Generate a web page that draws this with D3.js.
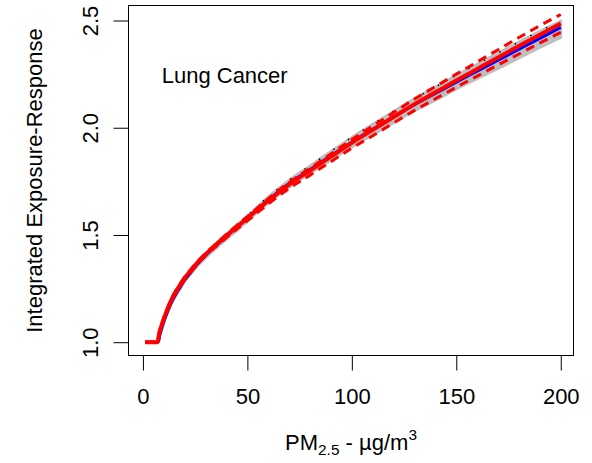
<!DOCTYPE html>
<html>
<head>
<meta charset="utf-8">
<script src="https://cdn.jsdelivr.net/npm/d3@7"></script>
<style>
  html, body { margin: 0; padding: 0; background: #ffffff; }
  svg { display: block; }
  text { font-family: "Liberation Sans", Arial, sans-serif; fill: #000; }
</style>
</head>
<body>
<svg id="chart" width="592" height="463"></svg>
<script>
// PM2.5 concentrations (µg/m3) at which the curves are evaluated
const pm = [1, 4, 7, 7.5, 8, 9, 10, 12, 14, 16, 18, 20, 23, 26, 30, 35, 40, 45, 50,
            60, 70, 80, 90, 100, 110, 120, 130, 140, 150, 160, 170, 180, 190, 200];

// Fitted integrated exposure-response (red, solid)
const ierFit = [1.0, 1.0, 1.0, 1.025, 1.05, 1.08, 1.11, 1.16, 1.205, 1.24, 1.27, 1.30, 1.335, 1.37, 1.41, 1.455, 1.497, 1.538, 1.578,
                1.66, 1.735, 1.80, 1.865, 1.93, 1.99, 2.05, 2.11, 2.165, 2.22, 2.274, 2.328, 2.381, 2.434, 2.486];

// Upper and lower limits of the fit (red, dashed)
const ierUpper = [1.0, 1.0, 1.0, 1.03, 1.055, 1.085, 1.115, 1.165, 1.21, 1.245, 1.275, 1.305, 1.34, 1.375, 1.414, 1.46, 1.503, 1.545, 1.586,
                  1.669, 1.745, 1.811, 1.878, 1.945, 2.008, 2.071, 2.134, 2.192, 2.25, 2.307, 2.364, 2.421, 2.476, 2.528];
const ierLower = [1.0, 1.0, 1.0, 1.015, 1.042, 1.073, 1.103, 1.153, 1.198, 1.233, 1.263, 1.293, 1.328, 1.363, 1.403, 1.447, 1.488, 1.528, 1.566,
                  1.645, 1.717, 1.779, 1.842, 1.905, 1.963, 2.022, 2.081, 2.135, 2.189, 2.241, 2.293, 2.344, 2.395, 2.445];

// Reference curve (blue)
const ierRef = [1.0, 1.0, 1.0, 1.005, 1.03, 1.065, 1.095, 1.148, 1.193, 1.228, 1.26, 1.29, 1.327, 1.363, 1.405, 1.451, 1.494, 1.536, 1.578,
                1.664, 1.74, 1.805, 1.87, 1.934, 1.993, 2.051, 2.108, 2.16, 2.213, 2.264, 2.315, 2.366, 2.417, 2.468];

// Spread of the simulated curves (grey band); its upper edge is also dotted in black
const bandHigh = [1.0, 1.0, 1.0, 1.01, 1.04, 1.073, 1.103, 1.157, 1.202, 1.237, 1.267, 1.298, 1.337, 1.373, 1.414, 1.46, 1.505, 1.548, 1.59,
                  1.678, 1.756, 1.823, 1.89, 1.956, 2.017, 2.077, 2.136, 2.19, 2.245, 2.297, 2.349, 2.401, 2.451, 2.497];
const bandLow = [1.0, 1.0, 1.0, 1.0, 1.022, 1.057, 1.087, 1.139, 1.184, 1.219, 1.249, 1.28, 1.318, 1.353, 1.393, 1.437, 1.48, 1.52, 1.564,
                 1.648, 1.722, 1.786, 1.848, 1.91, 1.967, 2.023, 2.078, 2.128, 2.18, 2.228, 2.276, 2.325, 2.373, 2.42];

const xTicks = [0, 50, 100, 150, 200];
const yTicks = [1.0, 1.5, 2.0, 2.5];
const yTickLabels = ["1.0", "1.5", "2.0", "2.5"];
const panelTitle = "Lung Cancer";

const svg = d3.select("#chart");
svg.append("rect").attr("width", 592).attr("height", 463).attr("fill", "#ffffff");

const box = { left: 128.5, right: 573.5, top: 5.5, bottom: 355.5 };

const x = d3.scaleLinear().domain([-6.9, 206.1]).range([box.left, box.right]);
const y = d3.scaleLinear().domain([0.938, 2.570]).range([box.bottom, box.top]);

const idx = d3.range(pm.length);
const lineOf = arr => d3.line()
  .x(i => x(pm[i]))
  .y(i => y(arr[i]))
  .curve(d3.curveMonotoneX)(idx);

// grey band
svg.append("path")
  .attr("d", d3.area()
    .x(i => x(pm[i]))
    .y0(i => y(bandLow[i]))
    .y1(i => y(bandHigh[i]))
    .curve(d3.curveMonotoneX)(idx))
  .attr("fill", "#bebebe")
  .attr("stroke", "#bebebe")
  .attr("stroke-width", 2.5);

// dotted upper edge of the band
svg.append("path")
  .attr("d", lineOf(bandHigh))
  .attr("fill", "none")
  .attr("stroke", "#000")
  .attr("stroke-width", 1.5)
  .attr("stroke-dasharray", "1.5,16");

// reference curve
svg.append("path")
  .attr("d", lineOf(ierRef))
  .attr("fill", "none")
  .attr("stroke", "#0000ff")
  .attr("stroke-width", 3);

// fitted curve
svg.append("path")
  .attr("d", lineOf(ierFit))
  .attr("fill", "none")
  .attr("stroke", "#ff0000")
  .attr("stroke-width", 4);

// limits
[ierUpper, ierLower].forEach(arr => {
  svg.append("path")
    .attr("d", lineOf(arr))
    .attr("fill", "none")
    .attr("stroke", "#ff0000")
    .attr("stroke-width", 3)
    .attr("stroke-dasharray", "9,6");
});

// frame
svg.append("rect")
  .attr("x", box.left).attr("y", box.top)
  .attr("width", box.right - box.left).attr("height", box.bottom - box.top)
  .attr("fill", "none").attr("stroke", "#000").attr("stroke-width", 1);

// x axis
const xAxis = svg.append("g")
  .attr("transform", `translate(0,${box.bottom})`)
  .call(d3.axisBottom(x).tickValues(xTicks).tickFormat(d3.format("d")).tickSize(15).tickPadding(18));
xAxis.select(".domain").remove();
xAxis.selectAll("line").attr("stroke", "#000");
xAxis.selectAll("text").attr("font-size", 22).attr("font-family", "Liberation Sans, Arial, sans-serif").attr("fill", "#000");

// y axis with labels turned to read upwards
const yAxis = svg.append("g")
  .attr("transform", `translate(${box.left},0)`)
  .call(d3.axisLeft(y).tickValues(yTicks).tickFormat((d, i) => yTickLabels[i]).tickSize(15));
yAxis.select(".domain").remove();
yAxis.selectAll("line").attr("stroke", "#000");
yAxis.selectAll("text")
  .attr("font-size", 22)
  .attr("font-family", "Liberation Sans, Arial, sans-serif")
  .attr("fill", "#000")
  .attr("x", 0).attr("y", -31).attr("dy", null)
  .attr("text-anchor", "middle")
  .attr("transform", "rotate(-90)");

// axis titles
svg.append("text")
  .attr("transform", `translate(42,${(box.top + box.bottom) / 2}) rotate(-90)`)
  .attr("text-anchor", "middle")
  .attr("font-size", 22)
  .text("Integrated Exposure-Response");

const xt = svg.append("text")
  .attr("x", (box.left + box.right) / 2)
  .attr("y", 450)
  .attr("text-anchor", "middle")
  .attr("font-size", 22);
xt.append("tspan").text("PM");
xt.append("tspan").attr("font-size", 15.4).attr("dy", 5).text("2.5");
xt.append("tspan").attr("dy", -5).text(" - \u00b5g/m");
xt.append("tspan").attr("font-size", 15.4).attr("dy", -10).text("3");

// panel label
svg.append("text")
  .attr("x", 161.7)
  .attr("y", 83.3)
  .attr("font-size", 22)
  .text(panelTitle);
</script>
</body>
</html>
